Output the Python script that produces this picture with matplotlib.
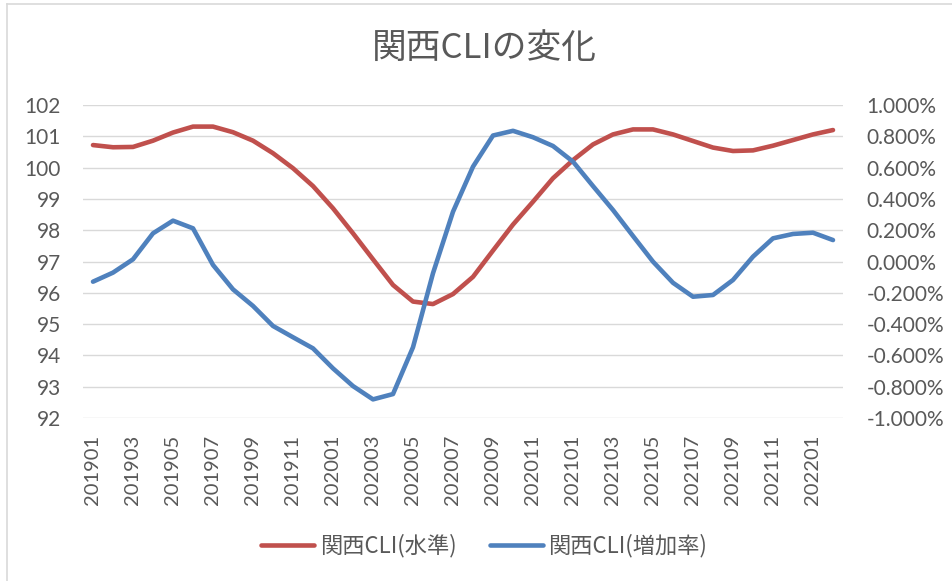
import matplotlib
matplotlib.use("Agg")
import matplotlib.pyplot as plt
from matplotlib.lines import Line2D

# monthly categories 201901 .. 202202
months = ["2019%02d" % m for m in range(1, 13)] + \
         ["2020%02d" % m for m in range(1, 13)] + \
         ["2021%02d" % m for m in range(1, 13)] + \
         ["202201", "202202"]

# 関西CLI(水準)  (left axis)
cli_level = [100.72, 100.65, 100.66, 100.86, 101.12, 101.31, 101.31, 101.13,
             100.86, 100.46, 99.98, 99.41, 98.70, 97.90, 97.07, 96.25,
             95.72, 95.64, 95.96, 96.51, 97.35, 98.18, 98.91, 99.66,
             100.24, 100.74, 101.06, 101.22, 101.22, 101.06, 100.85, 100.64,
             100.53, 100.55, 100.70, 100.88, 101.06, 101.20]

# 関西CLI(増加率) in percent (right axis)
cli_growth = [-0.129, -0.071, 0.014, 0.180, 0.261, 0.212, -0.022, -0.178,
              -0.284, -0.412, -0.484, -0.555, -0.683, -0.796, -0.881, -0.847,
              -0.548, -0.075, 0.318, 0.606, 0.805, 0.835, 0.794, 0.738,
              0.638, 0.482, 0.329, 0.163, -0.001, -0.136, -0.225, -0.214,
              -0.118, 0.031, 0.148, 0.176, 0.184, 0.137]

RED = "#C0504D"
BLUE = "#4F81BD"
GREY_TXT = "#595959"
GRID = "#D9D9D9"
CJK = ["Noto Sans CJK JP", "DejaVu Sans"]
NUM = ["Lato", "DejaVu Sans"]

W, H = 953, 581
fig = plt.figure(figsize=(W / 100, H / 100), dpi=100, facecolor="white")
ax = fig.add_axes([83 / W, (H - 418) / H, (843 - 83) / W, (418 - 105) / H])
ax2 = ax.twinx()

x = list(range(len(months)))
l1, = ax.plot(x, cli_level, color=RED, lw=3.3, solid_capstyle="round",
              solid_joinstyle="round", label="関西CLI(水準)")
l2, = ax2.plot(x, cli_growth, color=BLUE, lw=3.3, solid_capstyle="round",
               solid_joinstyle="round", label="関西CLI(増加率)")

ax.set_xlim(-0.5, len(months) - 0.5)
ax.set_ylim(92, 102)
ax.set_yticks(range(92, 103))
ax2.set_ylim(-1.0, 1.0)
ticks2 = [-1.0 + 0.2 * i for i in range(11)]
ax2.set_yticks(ticks2)
ax2.set_yticklabels(["%.3f%%" % (t + 0.0) for t in ticks2])

ax.yaxis.grid(True, color=GRID, lw=1.0)
ax.set_axisbelow(True)
for a in (ax, ax2):
    for s in a.spines.values():
        s.set_visible(False)

ax.set_xticks(x[::2])
ax.set_xticklabels(months[::2], rotation=90, fontfamily=NUM, fontsize=14.5,
                   color=GREY_TXT)
ax.tick_params(axis="x", length=0, pad=12)
ax.tick_params(axis="y", length=0, pad=16, labelsize=15, labelcolor=GREY_TXT)
ax2.tick_params(axis="y", length=0, pad=17, labelsize=15, labelcolor=GREY_TXT)
for lab in ax.get_yticklabels() + ax2.get_yticklabels():
    lab.set_fontfamily(NUM)

fig.text(484 / W, 1 - 48 / H, "関西CLIの変化", ha="center", va="center",
         fontsize=25, color=GREY_TXT, family=CJK)

leg = fig.legend(handles=[l1, l2], loc="center", ncol=2,
                 bbox_to_anchor=(484 / W, 1 - 546 / H), frameon=False,
                 handlelength=2.4, handletextpad=0.25, columnspacing=1.5,
                 prop={"family": CJK, "size": 16})
for t in leg.get_texts():
    t.set_color(GREY_TXT)

# chart area border (only top and left visible in the crop)
fig.add_artist(Line2D([7 / W, 7 / W], [0, 1 - 4 / H], transform=fig.transFigure,
                      color=GRID, lw=1.2))
fig.add_artist(Line2D([7 / W, 1], [1 - 4 / H, 1 - 4 / H], transform=fig.transFigure,
                      color=GRID, lw=1.2))

fig.savefig("out.png", dpi=100, facecolor="white")
